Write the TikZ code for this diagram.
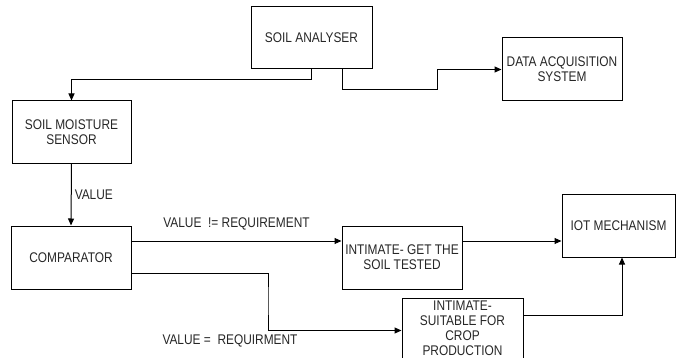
\documentclass[tikz,border=0pt]{standalone}
\usepackage{fontspec}
\setmainfont{Liberation Sans}[FakeStretch=0.85]
\usetikzlibrary{arrows.meta}
\begin{document}
\begin{tikzpicture}[x=1pt,y=-1pt,
  box/.style={draw=black, line width=1pt, minimum width=120pt, minimum height=63pt, align=center, inner sep=1pt, text=black!85},
  arr/.style={draw=black, line width=1pt, -{Triangle[length=7pt,width=6pt]}},
  lbl/.style={inner sep=0pt, text=black!85},
  every node/.style={font=\fontsize{14}{15.1}\selectfont}]
\useasboundingbox (0,0) rectangle (676,358);
\clip (0,0) rectangle (676,358);
\node[box, minimum width=121pt, minimum height=62pt] (sa) at (311.5,38) {SOIL ANALYSER};
\node[box] (das) at (562,69.5) {DATA ACQUISITION\\SYSTEM};
\node[box, minimum width=119pt, minimum height=62pt] (sms) at (71.5,132) {SOIL MOISTURE\\SENSOR};
\node[box] (comp) at (71,257.5) {COMPARATOR};
\node[box] (int1) at (402,257.5) {INTIMATE- GET THE\\SOIL TESTED};
\node[box, minimum width=113pt] (iot) at (618.5,225.5) {IOT MECHANISM};
\node[box, minimum width=121pt, minimum height=60pt] (int2) at (462.5,328.5) {INTIMATE-\\SUITABLE FOR\\CROP\\PRODUCTION};
\coordinate (j1) at (437,90);
\coordinate (j2) at (268,300);
\draw[arr] (sa.south) -- ++(0,10) -| (sms.north);
\draw[arr] ([xshift=30.5pt]sa.south) |- (j1) |- (das.west);
\draw[arr] (sms.south) -- node[lbl, right=3pt] {VALUE} (comp.north);
\draw[arr] ([yshift=16.5pt]comp.east) -- node[lbl, midway, above=10pt] {VALUE\ \ != REQUIREMENT} ([yshift=16.5pt]int1.west);
\draw[arr] ([yshift=16.5pt]int1.east) -- ([yshift=16.5pt]int1.east -| iot.west);
\draw[arr] ([yshift=-15.5pt]comp.east) -| (j2) |- ([yshift=-2pt]int2.west);
\node[lbl] (l2) at (230,341) {VALUE =\ \ REQUIRMENT};
\draw[arr] ([yshift=13.5pt]int2.east) -| ([xshift=3.5pt]iot.south);
\end{tikzpicture}
\end{document}
